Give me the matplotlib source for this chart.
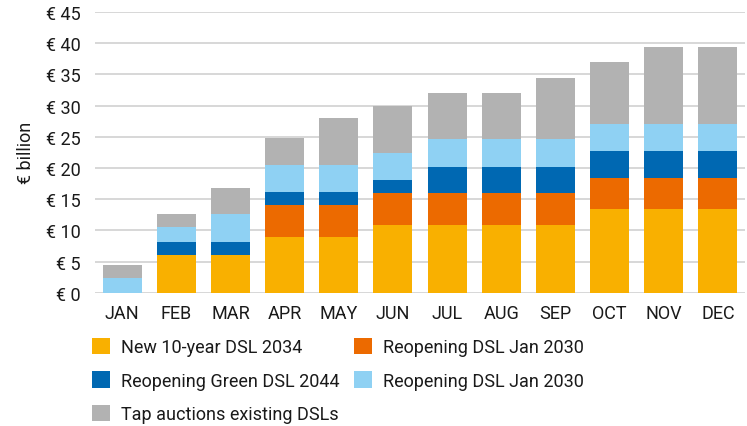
import numpy as np
import matplotlib.pyplot as plt
from matplotlib.patches import Patch

plt.rcParams['font.family'] = ['Roboto', 'DejaVu Sans']

# === DATA (EUR billion) ===
months = ['JAN', 'FEB', 'MAR', 'APR', 'MAY', 'JUN', 'JUL', 'AUG', 'SEP', 'OCT', 'NOV', 'DEC']
new_dsl_2034 = [0, 6.0, 6.0, 8.9, 8.9, 10.85, 10.85, 10.85, 10.85, 13.4, 13.4, 13.4]
reopen_jan2030 = [0, 0, 0, 5.1, 5.1, 5.1, 5.1, 5.1, 5.1, 5.0, 5.0, 5.0]
reopen_green_2044 = [0, 2.1, 2.1, 2.1, 2.1, 2.1, 4.2, 4.2, 4.2, 4.3, 4.3, 4.3]
reopen_jan2030_b = [2.35, 2.4, 4.5, 4.35, 4.35, 4.3, 4.5, 4.5, 4.5, 4.35, 4.35, 4.35]
tap_auctions = [2.1, 2.1, 4.2, 4.3, 7.5, 7.55, 7.35, 7.35, 9.8, 9.95, 12.35, 12.35]
y_ticks = [0, 5, 10, 15, 20, 25, 30, 35, 40, 45]

series = [
    (new_dsl_2034, '#F9B000', 'New 10-year DSL 2034'),
    (reopen_jan2030, '#EC6A00', 'Reopening DSL Jan 2030'),
    (reopen_green_2044, '#0068B2', 'Reopening Green DSL 2044'),
    (reopen_jan2030_b, '#8FD1F3', 'Reopening DSL Jan 2030'),
    (tap_auctions, '#B2B2B2', 'Tap auctions existing DSLs'),
]

fig = plt.figure(figsize=(7.47, 4.27), dpi=100)
ax = fig.add_axes([95 / 747, (427 - 293.7) / 427, 650 / 747, (293.7 - 13) / 427])

x = np.arange(len(months))
bottom = np.zeros(len(months))
for vals, color, label in series:
    ax.bar(x, vals, width=0.72, bottom=bottom, color=color, zorder=3)
    bottom += np.array(vals)

# axes styling
ax.set_xlim(-0.5, len(months) - 0.5)
ax.set_ylim(0, 45)
ax.set_yticks(y_ticks)
ax.set_yticklabels([f'€ {t}' for t in y_ticks])
ax.set_xticks(x)
ax.set_xticklabels(months)
ax.tick_params(axis='both', length=0, labelsize=13, colors='#1a1a1a')
ax.tick_params(axis='y', pad=10)
ax.tick_params(axis='x', pad=8)
ax.yaxis.grid(True, color='#d4d4d4', linewidth=1.3, zorder=0)
for side in ['top', 'right', 'left', 'bottom']:
    ax.spines[side].set_visible(False)
ax.set_ylabel('€ billion', fontsize=13, color='#1a1a1a', labelpad=8)

# legend: first column yellow, dark blue, grey; second column orange, light blue
order = [0, 2, 4, 1, 3]
handles = [Patch(facecolor=series[i][1], edgecolor='none') for i in order]
labels = [series[i][2] for i in order]
fig.legend(handles, labels, loc='upper left', bbox_to_anchor=(85 / 747, 1 - 332 / 427),
           ncol=2, frameon=False, fontsize=13, handlelength=1.0, handleheight=1.0,
           handletextpad=0.6, labelspacing=0.83, columnspacing=0.8,
           labelcolor='#1a1a1a', borderaxespad=0)

plt.savefig('out.png', dpi=100)
